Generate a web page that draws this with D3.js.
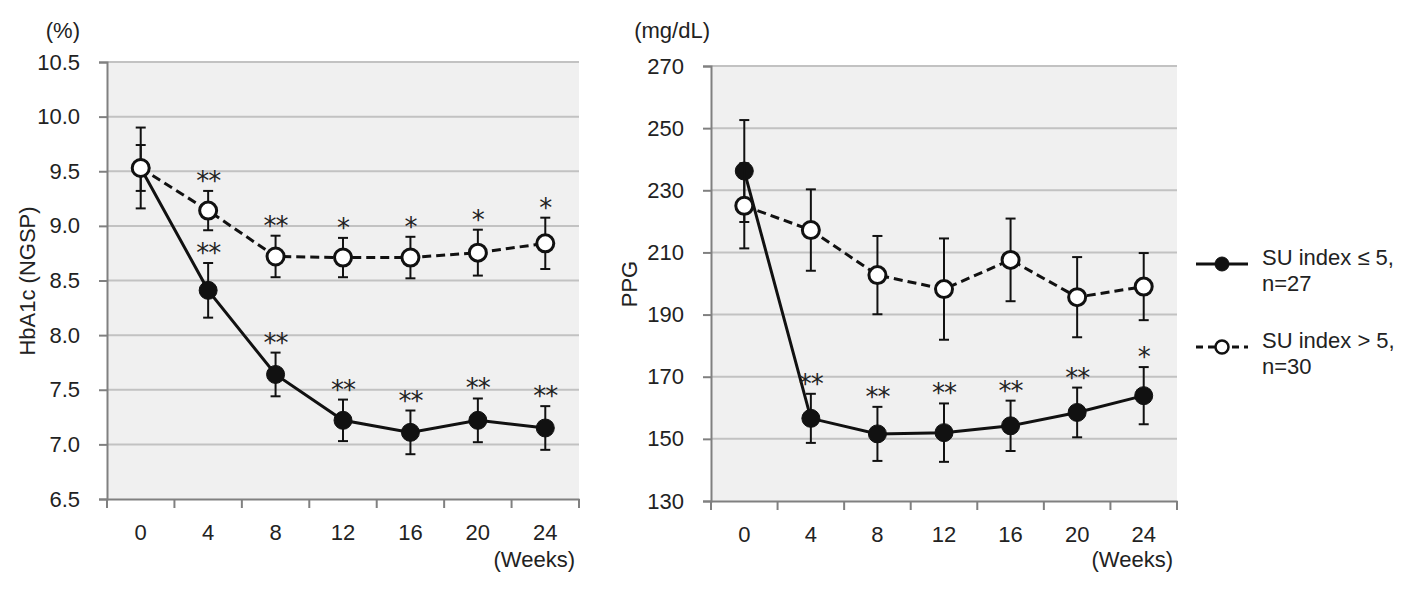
<!DOCTYPE html>
<html>
<head>
<meta charset="utf-8">
<script src="https://cdn.jsdelivr.net/npm/d3@7"></script>
<style>
html, body { margin: 0; padding: 0; background: #fff; }
svg text { font-family: "Liberation Sans", Arial, sans-serif; fill: #222; }
</style>
</head>
<body>
<svg id="chart" width="1417" height="592"></svg>
<script>
// ---- data ----
const weeks = ["0", "4", "8", "12", "16", "20", "24"];

// HbA1c (%) — SU index <= 5, n=27 (filled)
const hba1cLow = [9.53, 8.41, 7.64, 7.22, 7.11, 7.22, 7.15];
const hba1cLowErr = [0.37, 0.25, 0.20, 0.19, 0.20, 0.20, 0.20];
const hba1cLowSig = ["", "**", "**", "**", "**", "**", "**"];
// HbA1c (%) — SU index > 5, n=30 (open)
const hba1cHigh = [9.53, 9.14, 8.72, 8.71, 8.71, 8.755, 8.84];
const hba1cHighErr = [0.21, 0.18, 0.19, 0.18, 0.19, 0.21, 0.235];
const hba1cHighSig = ["", "**", "**", "*", "*", "*", "*"];

// PPG (mg/dL)
const ppgLow = [236.2, 156.6, 151.6, 152.0, 154.2, 158.5, 163.9];
const ppgLowErr = [16.4, 7.9, 8.7, 9.4, 8.1, 8.0, 9.2];
const ppgLowSig = ["", "**", "**", "**", "**", "**", "*"];
const ppgHigh = [225.0, 217.2, 202.7, 198.2, 207.6, 195.6, 199.0];
const ppgHighErr = [13.7, 13.1, 12.6, 16.3, 13.3, 12.9, 10.8];
const ppgHighSig = ["", "", "", "", "", "", ""];

const hba1cTicks = [6.5, 7.0, 7.5, 8.0, 8.5, 9.0, 9.5, 10.0, 10.5];
const ppgTicks = [130, 150, 170, 190, 210, 230, 250, 270];

const legendLabels = [["SU index \u2264 5,", "n=27"], ["SU index > 5,", "n=30"]];

// ---- drawing ----
const svg = d3.select("#chart");
const FS = 22;

function panel(cfg) {
  const g = svg.append("g");
  const x = d3.scaleBand().domain(weeks).range([cfg.x0, cfg.x1]);
  const y = d3.scaleLinear().domain([cfg.ticks[0], cfg.ticks[cfg.ticks.length - 1]]).range([cfg.y0, cfg.y1]);

  // plot background
  g.append("rect").attr("x", cfg.x0).attr("y", cfg.y1)
    .attr("width", cfg.x1 - cfg.x0).attr("height", cfg.y0 - cfg.y1).attr("fill", "#f0f0f0");

  // gridlines
  g.selectAll(".grid").data(cfg.ticks.slice(1)).enter().append("line")
    .attr("x1", cfg.x0).attr("x2", cfg.x1)
    .attr("y1", d => y(d)).attr("y2", d => y(d))
    .attr("stroke", "#c2c2c2").attr("stroke-width", 2);

  // y axis
  const yAxis = d3.axisLeft(y).tickValues(cfg.ticks).tickSize(8).tickPadding(19)
    .tickFormat(cfg.fmt);
  const ya = g.append("g").attr("transform", `translate(${cfg.x0},0)`).call(yAxis);
  ya.select(".domain").attr("stroke", "#808080").attr("stroke-width", 2);
  ya.selectAll(".tick line").attr("stroke", "#808080").attr("stroke-width", 2);
  ya.selectAll(".tick text").style("font-size", FS + "px").attr("fill", "#222")
    .style("font-family", '"Liberation Sans", Arial, sans-serif');

  // x axis: labels centered in bands, ticks at band edges
  const xAxis = d3.axisBottom(x).tickSize(0).tickPadding(25);
  const xa = g.append("g").attr("transform", `translate(0,${cfg.y0})`).call(xAxis);
  xa.select(".domain").attr("stroke", "#808080").attr("stroke-width", 2);
  xa.selectAll(".tick text").style("font-size", FS + "px").attr("fill", "#222")
    .style("font-family", '"Liberation Sans", Arial, sans-serif');
  const edges = weeks.map(w => x(w)).concat([x(weeks[weeks.length - 1]) + x.bandwidth()]);
  xa.selectAll(".edge").data(edges).enter().append("line")
    .attr("x1", d => d).attr("x2", d => d).attr("y1", 0).attr("y2", 9)
    .attr("stroke", "#808080").attr("stroke-width", 2);

  // unit label & axis title & weeks
  g.append("text").attr("x", cfg.unitX).attr("y", 38).attr("text-anchor", "end")
    .style("font-size", FS + "px").text(cfg.unit);
  g.append("text").attr("transform", `translate(${cfg.titleX},${cfg.titleY}) rotate(-90)`)
    .attr("text-anchor", "middle").style("font-size", FS + "px").text(cfg.title);
  g.append("text").attr("x", cfg.x1 - 4).attr("y", 567).attr("text-anchor", "end")
    .style("font-size", FS + "px").text("(Weeks)");

  const cx = w => x(w) + x.bandwidth() / 2;

  function series(vals, errs, sigs) {
    const sg = g.append("g");
    const pts = weeks.map((w, i) => ({ w, v: vals[i], e: errs[i], s: sigs[i] }));
    // error bars
    pts.forEach(p => {
      sg.append("line").attr("x1", cx(p.w)).attr("x2", cx(p.w))
        .attr("y1", y(p.v + p.e)).attr("y2", y(p.v - p.e))
        .attr("stroke", "#111").attr("stroke-width", 2);
      [p.v + p.e, p.v - p.e].forEach(t => {
        sg.append("line").attr("x1", cx(p.w) - 5).attr("x2", cx(p.w) + 5)
          .attr("y1", y(t)).attr("y2", y(t)).attr("stroke", "#111").attr("stroke-width", 2);
      });
    });
    return { sg, pts };
  }

  function finish(obj, filled, dashed) {
    const { sg, pts } = obj;
    sg.append("path").datum(pts)
      .attr("d", d3.line().x(p => cx(p.w)).y(p => y(p.v)))
      .attr("fill", "none").attr("stroke", "#111").attr("stroke-width", 3)
      .attr("stroke-dasharray", dashed ? "9,5" : null);
    sg.selectAll("circle").data(pts).enter().append("circle")
      .attr("cx", p => cx(p.w)).attr("cy", p => y(p.v))
      .attr("r", filled ? 9 : 8.5)
      .attr("fill", filled ? "#111" : "#fff")
      .attr("stroke", "#111").attr("stroke-width", filled ? 1 : 3);
    sg.selectAll(".sig").data(pts.filter(p => p.s)).enter().append("text")
      .attr("x", p => cx(p.w)).attr("y", p => y(p.v + p.e) - 1)
      .attr("text-anchor", "middle").style("font-size", "26px")
      .style("font-family", '"DejaVu Sans", sans-serif').style("letter-spacing", "-1px")
      .attr("fill", "#222")
      .text(p => p.s);
  }

  const a = series(cfg.low, cfg.lowErr, cfg.lowSig);
  const b = series(cfg.high, cfg.highErr, cfg.highSig);
  finish(a, true, false);
  finish(b, false, true);
}

panel({
  x0: 107, x1: 579, y0: 499, y1: 62,
  ticks: hba1cTicks, fmt: d3.format(".1f"),
  unit: "(%)", unitX: 80, title: "HbA1c (NGSP)", titleX: 35, titleY: 281,
  low: hba1cLow, lowErr: hba1cLowErr, lowSig: hba1cLowSig,
  high: hba1cHigh, highErr: hba1cHighErr, highSig: hba1cHighSig
});

panel({
  x0: 711, x1: 1177, y0: 501, y1: 66,
  ticks: ppgTicks, fmt: d3.format("d"),
  unit: "(mg/dL)", unitX: 710, title: "PPG", titleX: 637, titleY: 284,
  low: ppgLow, lowErr: ppgLowErr, lowSig: ppgLowSig,
  high: ppgHigh, highErr: ppgHighErr, highSig: ppgHighSig
});

// legend
const lg = svg.append("g");
const legY = [264, 347];
legendLabels.forEach((lab, i) => {
  const yy = legY[i];
  lg.append("line").attr("x1", 1196).attr("x2", 1248).attr("y1", yy).attr("y2", yy)
    .attr("stroke", "#111").attr("stroke-width", 3)
    .attr("stroke-dasharray", i === 1 ? "7,5" : null);
  lg.append("circle").attr("cx", 1222).attr("cy", yy).attr("r", i === 0 ? 7 : 6.5)
    .attr("fill", i === 0 ? "#111" : "#fff").attr("stroke", "#111").attr("stroke-width", i === 0 ? 1 : 2.5);
  lg.append("text").attr("x", 1262).attr("y", yy + 1).style("font-size", FS + "px").text(lab[0]);
  lg.append("text").attr("x", 1262).attr("y", yy + 27).style("font-size", FS + "px").text(lab[1]);
});
</script>
</body>
</html>
